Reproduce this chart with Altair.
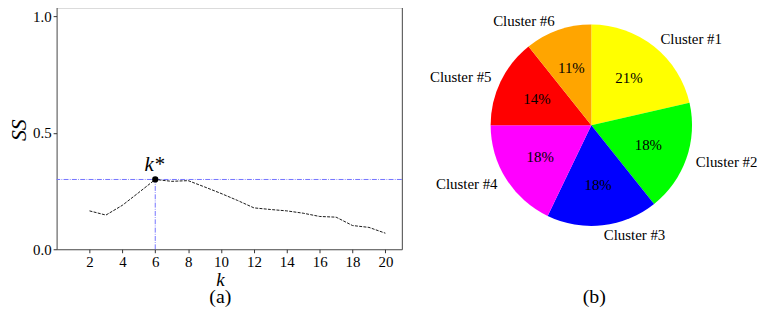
import altair as alt
import pandas as pd

# ---- Left panel data (silhouette score vs k) ----
k_values = list(range(2, 21))
ss_values = [0.165, 0.147, 0.189, 0.244, 0.300, 0.292, 0.295, 0.268, 0.240,
             0.210, 0.178, 0.171, 0.165, 0.155, 0.141, 0.138, 0.102, 0.094, 0.069]
k_star = 6
ss_star = 0.300
x_ticks = [2, 4, 6, 8, 10, 12, 14, 16, 18, 20]
y_ticks = [0.0, 0.5, 1.0]

# ---- Right panel data (cluster shares) ----
cluster_names = ["Cluster #1", "Cluster #2", "Cluster #3", "Cluster #4", "Cluster #5", "Cluster #6"]
cluster_sizes = [6, 5, 5, 5, 4, 3]
cluster_colors = ["#ffff00", "#00ff00", "#0000ff", "#ff00ff", "#ff0000", "#ffa500"]
label_side = ["R", "R", "R", "L", "L", "L"]

FONT = "'Liberation Serif', 'Times New Roman', Times, serif"

df_line = pd.DataFrame({"k": k_values, "ss": ss_values})
df_star = pd.DataFrame({"k": [k_star], "ss": [ss_star], "zero": [0.0]})

total = sum(cluster_sizes)
df_pie = pd.DataFrame({
    "name": cluster_names,
    "size": cluster_sizes,
    "idx": list(range(len(cluster_names))),
    "pct": [f"{round(100 * s / total)}%" for s in cluster_sizes],
    "lab_r": [n if s == "R" else "" for n, s in zip(cluster_names, label_side)],
    "lab_l": [n if s == "L" else "" for n, s in zip(cluster_names, label_side)],
})

xscale = alt.Scale(domain=[0, 21], nice=False, zero=False)
yscale = alt.Scale(domain=[0, 1.0405], nice=False)
x_axis = alt.Axis(values=x_ticks, title=None, labelPadding=2, labelOverlap=False)
y_axis = alt.Axis(values=y_ticks, format=".1f", title=None, labelPadding=2, labelOverlap=False)


def xe(field):
    return alt.X(field, scale=xscale, axis=x_axis)


def ye(field):
    return alt.Y(field, scale=yscale, axis=y_axis)


line = alt.Chart(df_line).mark_line(color="black", strokeWidth=0.9, strokeDash=[3, 1.3]).encode(
    x=xe("k:Q"), y=ye("ss:Q"))

hrule = alt.Chart(df_star).mark_rule(color="#7373ff", strokeWidth=1,
                                     strokeDash=[5, 1.3, 0.8, 1.3]).encode(y=ye("ss:Q"))
vrule = alt.Chart(df_star).mark_rule(color="#7373ff", strokeWidth=1,
                                     strokeDash=[5, 1.3, 0.8, 1.3]).encode(
    x=xe("k:Q"), y=ye("zero:Q"), y2="ss:Q")
point = alt.Chart(df_star).mark_circle(size=40, color="black", opacity=1).encode(
    x=xe("k:Q"), y=ye("ss:Q"))
kstar = alt.Chart(df_star).mark_text(text="k*", fontStyle="italic", fontSize=21,
                                     dy=-15, dx=-1, font=FONT).encode(x=xe("k:Q"), y=ye("ss:Q"))

df_ss = pd.DataFrame({"t": ["SS"]})
df_k = pd.DataFrame({"t": ["k"]})
df_a = pd.DataFrame({"t": ["(a)"]})
df_b = pd.DataFrame({"t": ["(b)"]})

ss_title = alt.Chart(df_ss).mark_text(angle=270, fontSize=22, fontStyle="italic", font=FONT).encode(
    x=alt.value(-38), y=alt.value(124), text="t:N")
k_title = alt.Chart(df_k).mark_text(fontSize=19, fontStyle="italic", font=FONT).encode(
    x=alt.value(165), y=alt.value(275), text="t:N")
a_title = alt.Chart(df_a).mark_text(fontSize=20, font=FONT).encode(
    x=alt.value(165), y=alt.value(292), text="t:N")

left = alt.layer(hrule, vrule, line, point, kstar, ss_title, k_title, a_title).properties(
    width=348, height=244,
    view=alt.ViewBackground(stroke="#444444", strokeWidth=1))

CX, CY, R = 175, 119, 101.5
theta = alt.Theta("size:Q", stack=True)
order = alt.Order("idx:Q")

arc = alt.Chart(df_pie).mark_arc(outerRadius=R).encode(
    theta=theta, order=order,
    color=alt.Color("name:N", scale=alt.Scale(domain=cluster_names, range=cluster_colors), legend=None),
    x=alt.value(CX), y=alt.value(CY))
pct = alt.Chart(df_pie).mark_text(radius=0.6 * R, fontSize=15, font=FONT, color="black").encode(
    theta=theta, order=order, text="pct:N", x=alt.value(CX), y=alt.value(CY))
lab_r = alt.Chart(df_pie).mark_text(radius=1.1 * R, fontSize=15, font=FONT, align="left",
                                    baseline="middle", color="black").encode(
    theta=theta, order=order, text="lab_r:N", x=alt.value(CX), y=alt.value(CY))
lab_l = alt.Chart(df_pie).mark_text(radius=1.1 * R, fontSize=15, font=FONT, align="right",
                                    baseline="middle", color="black").encode(
    theta=theta, order=order, text="lab_l:N", x=alt.value(CX), y=alt.value(CY))
b_title = alt.Chart(df_b).mark_text(fontSize=20, font=FONT).encode(
    x=alt.value(178), y=alt.value(292), text="t:N")

right = alt.layer(arc, pct, lab_r, lab_l, b_title).properties(
    width=337, height=244,
    view=alt.ViewBackground(stroke=None))

chart = alt.hconcat(left, right, spacing=16, bounds="flush").properties(
    padding={"left": -1, "top": -3, "right": -1, "bottom": -2}
).configure(font=FONT).configure_view(stroke=None).configure_axis(
    labelFont=FONT, labelFontSize=15, labelColor="black", tickColor="#333333",
    tickSize=3.5, tickWidth=1, domain=False, grid=False, labelOverlap=False
)

chart.save("out.html", embed_options={"renderer": "svg", "actions": False})
